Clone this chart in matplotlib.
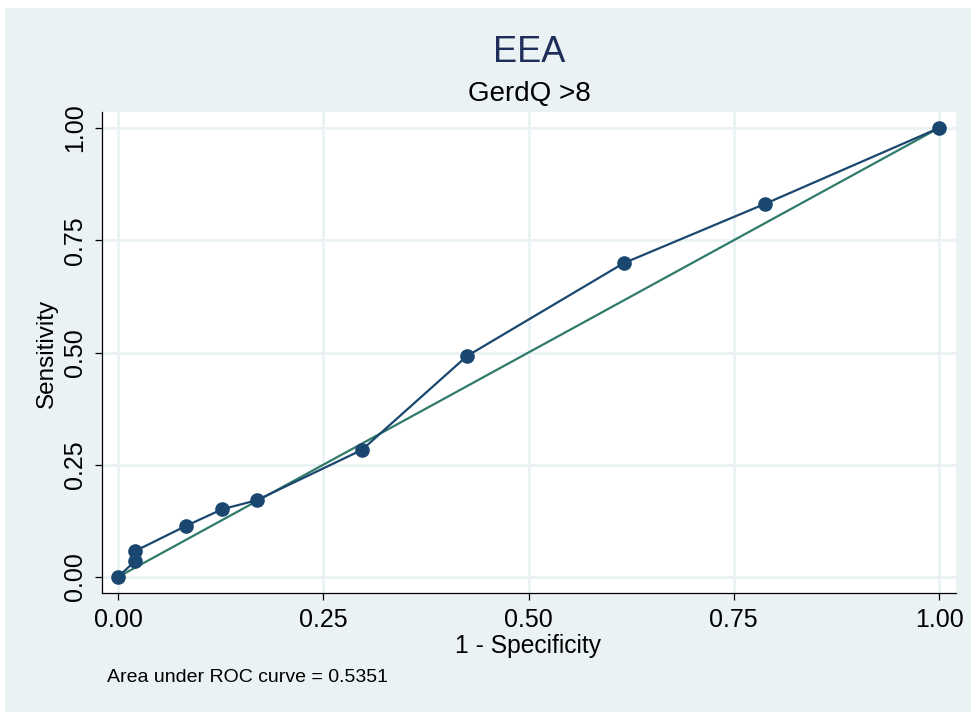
import matplotlib
matplotlib.use("Agg")
import matplotlib.pyplot as plt
from matplotlib.patches import Rectangle

# Data
fpr = [0.0, 0.021, 0.021, 0.083, 0.127, 0.169, 0.297, 0.425, 0.616, 0.788, 1.0]
tpr = [0.0, 0.036, 0.058, 0.114, 0.151, 0.171, 0.283, 0.492, 0.699, 0.831, 1.0]
ticks = [0.0, 0.25, 0.5, 0.75, 1.0]
tick_labels = ["0.00", "0.25", "0.50", "0.75", "1.00"]
title = "EEA"
subtitle = "GerdQ >8"
auc_note = "Area under ROC curve = 0.5351"

plt.rcParams['font.family'] = ['Liberation Sans', 'DejaVu Sans']

W, H = 971, 712
fig = plt.figure(figsize=(W / 100, H / 100), dpi=100, facecolor='white')
bg = '#EAF2F3'
fig.patches.append(Rectangle((5 / W, 0), 1 - 5 / W, 1 - 8 / H, transform=fig.transFigure,
                             facecolor=bg, edgecolor='none', zorder=-10))

ax = fig.add_axes([102 / W, 1 - 593 / H, (956 - 102) / W, (593 - 112) / H])
ax.set_facecolor('white')
ax.set_xlim(-0.0195, 1.0207)
ax.set_ylim(-0.0356, 1.0356)

ax.set_xticks(ticks)
ax.set_xticklabels(tick_labels)
ax.set_yticks(ticks)
ax.set_yticklabels(tick_labels, rotation=90, va='center')
ax.grid(True, color=bg, linewidth=2.0, zorder=0)
ax.set_axisbelow(True)

for s in ['top', 'right']:
    ax.spines[s].set_visible(False)
for s in ['left', 'bottom']:
    ax.spines[s].set_color('black')
    ax.spines[s].set_linewidth(0.9)

ax.tick_params(axis='both', direction='out', length=5, width=0.9, colors='black',
               labelsize=18, pad=6)

ax.plot([0, 1], [0, 1], color='#2F7A6A', linewidth=1.6, zorder=2)
ax.plot(fpr, tpr, color='#1A476F', linewidth=1.6, marker='o', markersize=9.5,
        markerfacecolor='#1A476F', markeredgecolor='#1A476F', zorder=3, clip_on=False)

fig.text(529 / W, 1 - 53 / H, title, ha='center', va='center',
         fontsize=26, color='#1E2D5A')
fig.text(529 / W, 1 - 94 / H, subtitle, ha='center', va='center', fontsize=20, color='black')
fig.text(528 / W, 1 - 646 / H, "1 - Specificity", ha='center', va='center', fontsize=17.7)
fig.text(47 / W, 1 - 353 / H, "Sensitivity", ha='center', va='center', rotation=90, fontsize=17.5)
fig.text(107 / W, 1 - 677 / H, auc_note, ha='left', va='center', fontsize=14)

fig.savefig('out.png', dpi=100, facecolor='white')
